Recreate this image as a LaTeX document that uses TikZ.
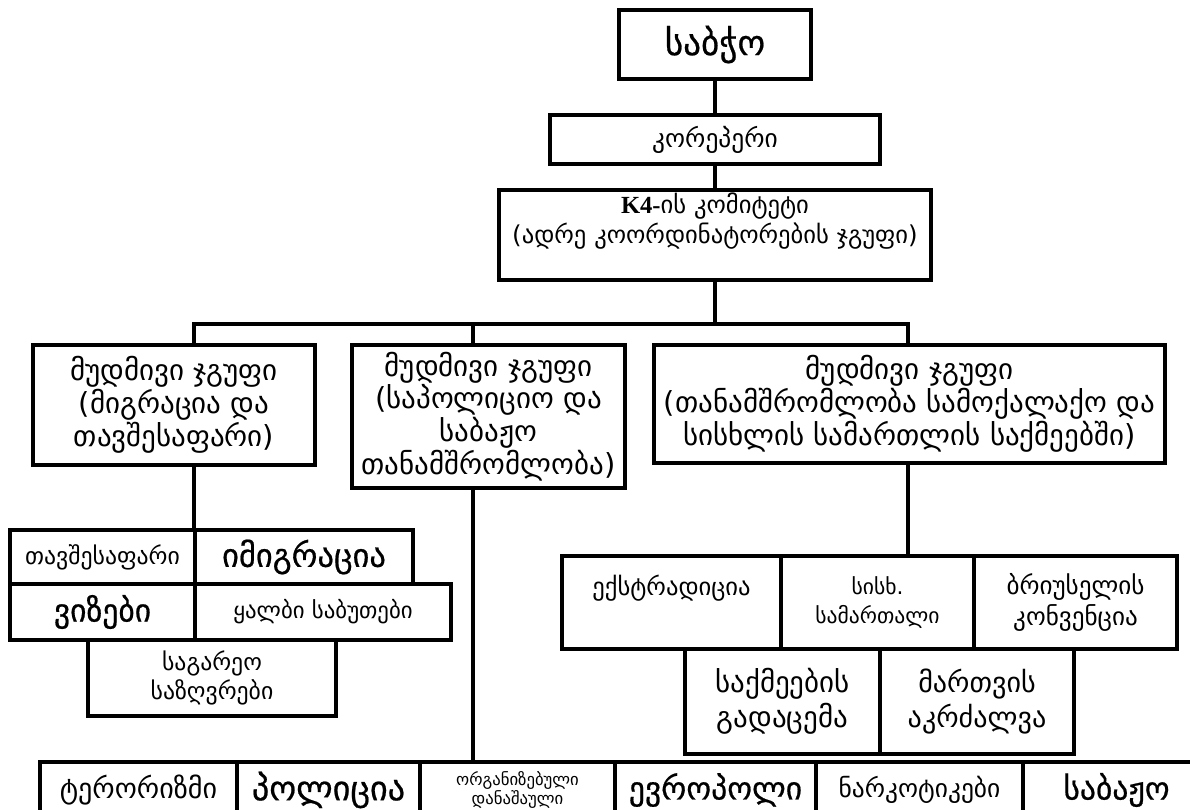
\documentclass[tikz,border=0pt]{standalone}
\usepackage{fontspec}
\setmainfont{DejaVu Sans}
\newfontfamily\medium{DejaVu Sans}[FakeBold=0.6]
\newfontfamily\kfont{Liberation Serif}
\usepackage{xcolor}
\usepackage{tikz}
\usetikzlibrary{math}

\tikzset{
	box/.style={draw, line width=2.3pt, fill=white, align=center, inner sep=0pt},
	sz/.style 2 args={minimum width=#1*0.02cm, minimum height=#2*0.02cm},
	grp/.style={box, font=\fontsize{16.5}{17.5}\selectfont},
}
\newcommand{\fs}[1]{\fontsize{#1}{20}\selectfont}

\begin{document}
\begin{tikzpicture}[x=0.02cm, y=-0.02cm, line width=2.3pt]
\useasboundingbox (0,0) rectangle (1190,810);
\clip (0,0) rectangle (1190,810);
\tikzmath{
	\mx = 715; \bary = 324;
	\lx = 194; \cx = 473; \rx = 908;
	% top of the chain
	{\node[box, sz={192}{69}, font=\medium\fontsize{20}{22}\selectfont] (sabcho) at (\mx,44.5) {საბჭო};};
	{\node[box, sz={330}{49}, font=\fontsize{14.5}{17}\selectfont] (koreperi) at (\mx,139.5) {კორეპერი};};
	{\node[box, sz={432}{90}, font=\fontsize{14}{17}\selectfont] (komiteti) at (\mx,235) {{\kfont\bfseries K4-}ის კომიტეტი\\(ადრე კოორდინატორების ჯგუფი)\\[2pt]};};
	{\coordinate (bl) at (\lx,\bary);};
	{\coordinate (bc) at (\cx,\bary);};
	{\coordinate (br) at (\rx,\bary);};
	%
	{\node[grp, sz={282}{120}] (migracia) at (174,405) {მუდმივი ჯგუფი\\(მიგრაცია და\\თავშესაფარი)};};
	{\node[grp, sz={273}{143}] (policia) at (488.5,416.5) {მუდმივი ჯგუფი\\(საპოლიციო და\\საბაჟო\\თანამშრომლობა)};};
	{\node[grp, sz={511}{118}] (samartali) at (909.5,404) {მუდმივი ჯგუფი\\(თანამშრომლობა სამოქალაქო და\\სისხლის სამართლის საქმეებში)};};
	% migracia
	{\node[box, sz={185}{54}, font=\fs{13.5}] (tavsh) at (102.5,557) {თავშესაფარი};};
	{\node[box, sz={218}{54}, font=\medium\fs{18.5}] (imigr) at (304,557) {იმიგრაცია};};
	{\node[box, sz={185}{56}, font=\medium\fs{18}] (vizebi) at (102.5,612) {ვიზები};};
	{\node[box, sz={256}{56}, font=\fs{13}] (qalbi) at (323,612) {ყალბი საბუთები};};
	{\node[box, sz={248}{76}, font=\fontsize{13.5}{16.5}\selectfont] (sazgvr) at (212,678) {საგარეო\\საზღვრები};};
	% samartali
	{\node[box, sz={219}{93}, font=\fs{14}, text depth=0.68cm] (ekstr) at (671.5,602.5) {ექსტრადიცია};};
	{\node[box, sz={193}{93}, font=\fontsize{12.3}{17}\selectfont] (siskh) at (877.5,602.5) {სისხ.\\სამართალი};};
	{\node[box, sz={203}{93}, font=\fontsize{14.3}{18}\selectfont] (briusel) at (1075.5,602.5) {ბრიუსელის\\კონვენცია};};
	{\node[box, sz={195}{105}, font=\fontsize{16.5}{20}\selectfont] (saqme) at (782.5,701.5) {საქმეების\\გადაცემა};};
	{\node[box, sz={194}{105}, font=\fontsize{16}{20}\selectfont] (martva) at (977,701.5) {მართვის\\აკრძალვა};};
	% policia
	{\node[box, sz={197}{56}, font=\fs{16}] (teror) at (138.5,790) {ტერორიზმი};};
	{\node[box, sz={183}{56}, font=\medium\fs{19.5}] (polic) at (328.5,790) {პოლიცია};};
	{\node[box, sz={195}{56}, font=\fontsize{9.5}{10}\selectfont] (organ) at (517.5,790) {ორგანიზებული\\დანაშაული};};
	{\node[box, sz={201}{56}, font=\medium\fs{18}] (europol) at (715.5,790) {ევროპოლი};};
	{\node[box, sz={207}{56}, font=\fs{14.5}] (narko) at (919.5,790) {ნარკოტიკები};};
	{\node[box, sz={187}{56}, font=\medium\fs{18}] (sabazho) at (1116.5,790) {საბაჟო};};
	% lines
	{\draw (sabcho.south) -- (koreperi.north);};
	{\draw (koreperi.south) -- (komiteti.north);};
	{\draw (komiteti.south) -- (komiteti.south |- bl);};
	{\draw (migracia.north -| bl) -- (bl) -- (br) -- (samartali.north -| br);};
	{\draw (bc) -- (policia.north -| bc);};
	{\draw (migracia.south -| bl) -- (tavsh.north -| bl);};
	{\draw (policia.south -| bc) -- (teror.north -| bc);};
	{\draw (samartali.south -| br) -- (ekstr.north -| br);};
};
\end{tikzpicture}
\end{document}
